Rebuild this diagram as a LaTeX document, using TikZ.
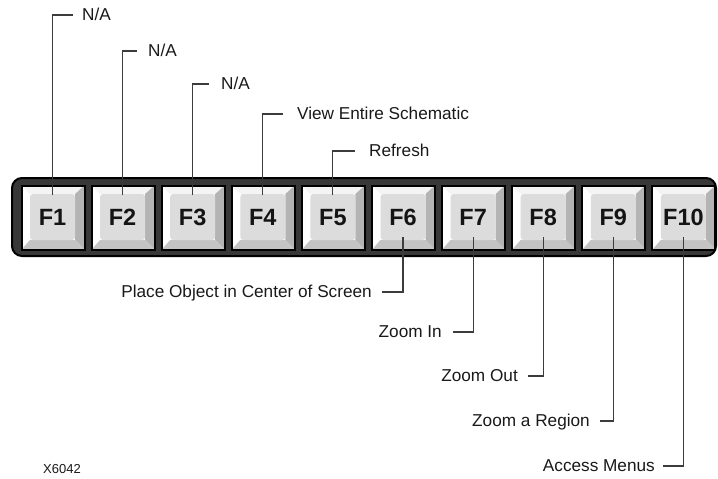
\documentclass[tikz,border=0pt]{standalone}
\usepackage{fontspec}
\setmainfont{Liberation Sans}
\definecolor{bardark}{HTML}{383838}
\definecolor{facegray}{HTML}{DCDCDC}
\definecolor{rightbev}{HTML}{B4B4B4}
\definecolor{botbev}{HTML}{C4C4C4}
\definecolor{topbev}{HTML}{F4F4F4}
\definecolor{linegray}{HTML}{3C3C3C}
\begin{document}
\begin{tikzpicture}[x=1pt,y=-1pt,
  bar/.style={draw=black, line width=2pt, fill=bardark, rounded corners=10pt,
    minimum width=704pt, minimum height=78pt, inner sep=0pt, outer sep=0pt},
  keybox/.style={fill=white, minimum width=63pt, minimum height=64pt, inner sep=0pt, outer sep=0pt},
  keyface/.style={fill=facegray, rounded corners=3pt, minimum width=45pt, minimum height=46pt,
    inner sep=0pt, outer sep=0pt, text height=16.8pt, text depth=0pt,
    font=\fontsize{23.5}{23.5}\selectfont\bfseries, text=black!92},
  leader/.style={draw=linegray, line width=1.1pt},
  lab/.style={font=\fontsize{17.2}{17.2}\selectfont, inner sep=0pt, text height=10pt, text depth=0pt, text=black!90}]
\useasboundingbox (0,0) rectangle (718,479);
\node[bar] (bar) at (364,217) {};
\foreach \i in {1,...,10}{
  \pgfmathsetmacro\kx{53+70.1*(\i-1)}
  \node[keybox] (k\i) at (\kx,217.5) {};
  \fill[topbev] (\kx-31,186) -- (\kx+31,186) -- (\kx+22,194) -- (\kx-23,194) -- cycle;
  \fill[rightbev] (\kx+31,186) -- (\kx+31,249) -- (\kx+22,240) -- (\kx+22,194) -- cycle;
  \fill[botbev] (\kx-31,249) -- (\kx+31,249) -- (\kx+22,240) -- (\kx-23,240) -- cycle;
  \node[keyface] (f\i) at (\kx-0.5,217) {F\i};
  \draw[line width=2pt] (k\i.north west) rectangle (k\i.south east);
}
% upper labels
\node[lab, anchor=west] (l1) at (82,15) {N/A};
\node[lab, anchor=west] (l2) at (148,51) {N/A};
\node[lab, anchor=west] (l3) at (221,84) {N/A};
\node[lab, anchor=west] (l4) at (297,114) {View Entire Schematic};
\node[lab, anchor=west] (l5) at (369,151) {Refresh};
\draw[leader, shorten >=9pt] ([yshift=-1pt]f1.north) |- (l1.west);
\draw[leader, shorten >=11pt] ([yshift=-1pt]f2.north) |- (l2.west);
\draw[leader, shorten >=12pt] ([yshift=-1pt]f3.north) |- (l3.west);
\draw[leader, shorten >=14pt] ([yshift=-1pt]f4.north) |- (l4.west);
\draw[leader, shorten >=14pt] ([yshift=-1pt]f5.north) |- (l5.west);
% lower labels
\node[lab, anchor=east] (l6) at (372,292) {Place Object in Center of Screen};
\node[lab, anchor=east] (l7) at (442,332) {Zoom In};
\node[lab, anchor=east] (l8) at (518,376) {Zoom Out};
\node[lab, anchor=east] (l9) at (590,421) {Zoom a Region};
\node[lab, anchor=east] (l10) at (655,466) {Access Menus};
\draw[leader, shorten >=10pt] ([yshift=3pt]f6.south) |- (l6.east);
\draw[leader, shorten >=11pt] ([yshift=3pt]f7.south) |- (l7.east);
\draw[leader, shorten >=10pt] ([yshift=3pt]f8.south) |- (l8.east);
\draw[leader, shorten >=10pt] ([yshift=3pt]f9.south) |- (l9.east);
\draw[leader, shorten >=8pt] ([yshift=3pt]f10.south) |- (l10.east);
\node[font=\fontsize{13}{13}\selectfont, inner sep=0pt, anchor=west, text=black!90] (code) at (43,469) {X6042};
\end{tikzpicture}
\end{document}
